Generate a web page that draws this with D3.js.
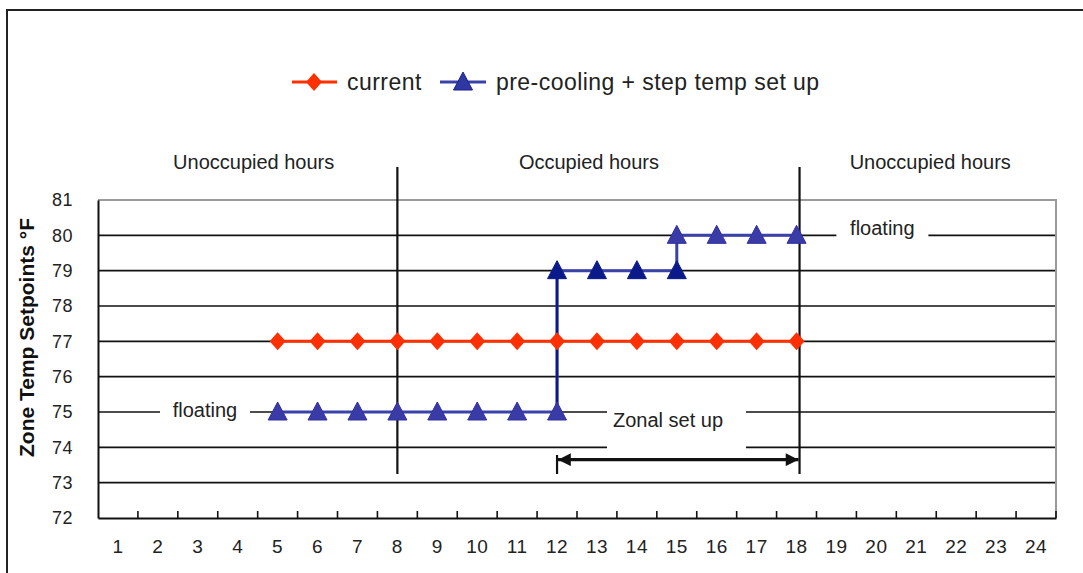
<!DOCTYPE html>
<html>
<head>
<meta charset="utf-8">
<script src="https://cdn.jsdelivr.net/npm/d3@7"></script>
<style>
  html, body { margin: 0; padding: 0; background: #fff; }
  svg { display: block; font-family: "Liberation Sans", Arial, sans-serif; }
</style>
</head>
<body>
<svg id="chart" width="1083" height="573"></svg>
<script>
// ---- data ----
const hours = ["1","2","3","4","5","6","7","8","9","10","11","12","13","14","15","16","17","18","19","20","21","22","23","24"];
const yTicks = [72, 73, 74, 75, 76, 77, 78, 79, 80, 81];

const currentHours  = ["5","6","7","8","9","10","11","12","13","14","15","16","17","18"];
const currentValues = [77, 77, 77, 77, 77, 77, 77, 77, 77, 77, 77, 77, 77, 77];

const stepHours  = ["5","6","7","8","9","10","11","12","12","13","14","15","15","16","17","18"];
const stepValues = [75, 75, 75, 75, 75, 75, 75, 75, 79, 79, 79, 79, 80, 80, 80, 80];

const seriesNames = ["current", "pre-cooling + step temp set up"];
const periodLabels = ["Unoccupied hours", "Occupied hours", "Unoccupied hours"];
const periodDividers = ["8", "18"];
const zonalRange = ["12", "18"];
const zonalLabel = "Zonal set up";
const floatingLabel = "floating";
const yTitle = "Zone Temp Setpoints °F";

// ---- layout ----
const svg = d3.select("#chart");
const M = { left: 98, right: 1056, top: 200, bottom: 518 };

const x = d3.scaleBand().domain(hours).range([M.left, M.right]).paddingInner(0).paddingOuter(0);
const y = d3.scaleLinear().domain([72, 81]).range([M.bottom, M.top]);
const cx = h => x(h) + x.bandwidth() / 2;
// fractional position along the hour axis (index based, for annotation placement)
const xi = i => x(hours[0]) + x.bandwidth() / 2 + i * x.bandwidth();

const RED = "#ff3000";
const BLUE = "#3a42aa";
const BLUE_DARK = "#0b1a8a";
const BLUE_MARK = "#3b3ba8";

// outer border (top & left visible)
svg.append("rect").attr("x", 7).attr("y", 10).attr("width", 1200).attr("height", 700)
  .attr("fill", "none").attr("stroke", "#222").attr("stroke-width", 2);

// gridlines
svg.append("g").selectAll("line").data(yTicks.filter(t => t > 72 && t < 81)).join("line")
  .attr("x1", M.left).attr("x2", M.right)
  .attr("y1", d => y(d)).attr("y2", d => y(d))
  .attr("stroke", "#111").attr("stroke-width", 1.6);

// plot frame (top/right gray)
svg.append("path")
  .attr("d", `M${M.left},${y(81)}H${M.right}V${M.bottom}`)
  .attr("fill", "none").attr("stroke", "#9a9a9a").attr("stroke-width", 2);

// y axis
const yAxis = d3.axisLeft(y).tickValues(yTicks).tickSize(0).tickPadding(25).tickFormat(d3.format("d"));
const gy = svg.append("g").attr("transform", `translate(${M.left},0)`).call(yAxis);
gy.select(".domain").attr("stroke", "#111").attr("stroke-width", 2);
gy.selectAll("text").attr("font-size", 18).attr("fill", "#222").attr("letter-spacing", 0.5)
  .attr("font-family", "Liberation Sans, Arial, sans-serif");

// x axis: labels centered in bands, ticks at band boundaries pointing up
const xAxis = d3.axisBottom(x).tickSize(0).tickPadding(22);
const gx = svg.append("g").attr("transform", `translate(0,${M.bottom})`).call(xAxis);
gx.select(".domain").attr("stroke", "#111").attr("stroke-width", 2);
gx.selectAll("text").attr("font-size", 19).attr("fill", "#222").attr("letter-spacing", 0.5)
  .attr("font-family", "Liberation Sans, Arial, sans-serif");
svg.append("g").selectAll("line").data(hours.slice(1).concat(["end"])).join("line")
  .attr("x1", (d, i) => i < hours.length - 1 ? x(d) : M.right)
  .attr("x2", (d, i) => i < hours.length - 1 ? x(d) : M.right)
  .attr("y1", M.bottom).attr("y2", M.bottom - 7)
  .attr("stroke", "#111").attr("stroke-width", 1.6);

// y title
svg.append("text")
  .attr("transform", `translate(34,${(217 + 458) / 2}) rotate(-90)`)
  .attr("text-anchor", "middle")
  .attr("font-size", 21).attr("font-weight", "bold").attr("fill", "#111")
  .text(yTitle);

// period labels
const periodPos = [xi(3.4), xi(11.8), xi(20.35)];
svg.append("g").selectAll("text").data(periodLabels).join("text")
  .attr("x", (d, i) => periodPos[i]).attr("y", 169)
  .attr("text-anchor", "middle").attr("font-size", 20).attr("fill", "#222")
  .text(d => d);

// "floating" labels with white background over gridlines
function boxedLabel(cxp, cyp, w, h, txt, ty) {
  svg.append("rect").attr("x", cxp - w / 2).attr("y", cyp - h / 2).attr("width", w).attr("height", h).attr("fill", "#fff");
  svg.append("text").attr("x", cxp).attr("y", ty).attr("text-anchor", "middle")
    .attr("font-size", 20).attr("fill", "#222").text(txt);
}
boxedLabel(xi(2.18), y(75), 90, 22, floatingLabel, y(75) + 5);
boxedLabel(xi(19.15), y(80), 92, 22, floatingLabel, y(80) + 0);
// zonal set up box
svg.append("rect").attr("x", 607).attr("y", y(75) - 8).attr("width", 139).attr("height", y(74) - y(75) + 14).attr("fill", "#fff");
svg.append("text").attr("x", 668).attr("y", 427).attr("text-anchor", "middle")
  .attr("font-size", 20).attr("fill", "#222").text(zonalLabel);

// period divider lines
svg.append("g").selectAll("line").data(periodDividers).join("line")
  .attr("x1", d => cx(d) + (d === "18" ? 3 : 0)).attr("x2", d => cx(d) + (d === "18" ? 3 : 0))
  .attr("y1", 167).attr("y2", 474)
  .attr("stroke", "#111").attr("stroke-width", 2.2);

// zonal range arrow
const ay = y(73.65);
svg.append("line").attr("x1", cx(zonalRange[0])).attr("x2", cx(zonalRange[0]))
  .attr("y1", 455).attr("y2", 474).attr("stroke", "#111").attr("stroke-width", 2.2);
const defs = svg.append("defs");
defs.append("marker").attr("id", "ah").attr("viewBox", "0 0 10 10").attr("refX", 10).attr("refY", 5)
  .attr("markerWidth", 5).attr("markerHeight", 4).attr("markerUnits", "strokeWidth").attr("orient", "auto-start-reverse")
  .append("path").attr("d", "M0,0L10,5L0,10Z").attr("fill", "#111");
svg.append("line")
  .attr("x1", cx(zonalRange[0]) + 1).attr("x2", cx(zonalRange[1]) + 2)
  .attr("y1", ay).attr("y2", ay)
  .attr("stroke", "#111").attr("stroke-width", 3.2)
  .attr("marker-start", "url(#ah)").attr("marker-end", "url(#ah)");

// series lines
const current = currentHours.map((h, i) => ({ h, v: currentValues[i] }));
const step = stepHours.map((h, i) => ({ h, v: stepValues[i] }));
const line = d3.line().x(d => cx(d.h)).y(d => y(d.v));

svg.append("path").datum(step).attr("d", line).attr("fill", "none")
  .attr("stroke", BLUE).attr("stroke-width", 3);
// darker rising segment at the step
svg.append("path").datum(step.filter((d, i) => i === 7 || i === 8)).attr("d", line).attr("fill", "none")
  .attr("stroke", BLUE_DARK).attr("stroke-width", 2.5);
svg.append("path").datum(current).attr("d", line).attr("fill", "none")
  .attr("stroke", RED).attr("stroke-width", 3);

const diamond = "M0,-9L8,0L0,9L-8,0Z";
const tri = "M0,-10L9.5,8L-9.5,8Z";

svg.append("g").selectAll("path").data(current).join("path")
  .attr("d", diamond).attr("transform", d => `translate(${cx(d.h)},${y(d.v)})`)
  .attr("fill", RED);
svg.append("g").selectAll("path").data(step).join("path")
  .attr("d", tri).attr("transform", d => `translate(${cx(d.h)},${y(d.v)})`)
  .attr("fill", d => d.v === 79 ? BLUE_DARK : BLUE_MARK)
  .attr("stroke", d => d.v === 79 ? BLUE_DARK : "#3030a0").attr("stroke-width", 1);

// legend
const lg = svg.append("g");
const ly = 82;
lg.append("line").attr("x1", 292).attr("x2", 337).attr("y1", ly).attr("y2", ly).attr("stroke", RED).attr("stroke-width", 3);
lg.append("path").attr("d", diamond).attr("transform", `translate(314,${ly})`).attr("fill", RED);
lg.append("text").attr("x", 347).attr("y", ly + 8).attr("font-size", 23).attr("letter-spacing", 0.45).attr("fill", "#222").text(seriesNames[0]);
lg.append("line").attr("x1", 440).attr("x2", 486).attr("y1", ly).attr("y2", ly).attr("stroke", BLUE).attr("stroke-width", 3);
lg.append("path").attr("d", tri).attr("transform", `translate(463,${ly})`).attr("fill", "#2f37a0").attr("stroke", "#1a2090");
lg.append("text").attr("x", 496).attr("y", ly + 8).attr("font-size", 23).attr("letter-spacing", 0.45).attr("fill", "#222").text(seriesNames[1]);
</script>
</body>
</html>
